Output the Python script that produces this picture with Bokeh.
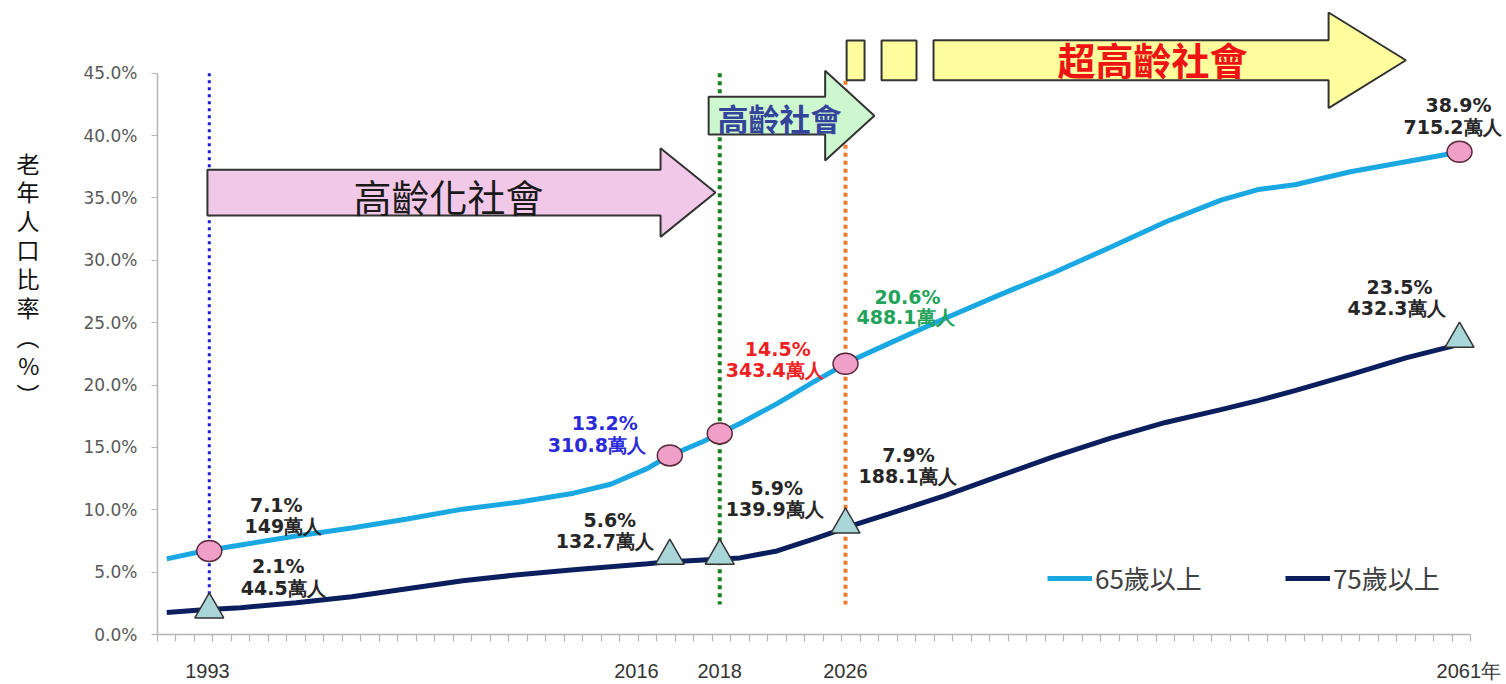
from bokeh.plotting import figure
from bokeh.models import (Range1d, FixedTicker, CustomJSTickFormatter, ColumnDataSource,
                          LabelSet, Legend, LegendItem)
from bokeh.core.properties import value
from bokeh.embed import file_html
from bokeh.resources import INLINE

# ---------------- data ----------------
years = [1991, 1993, 1995, 1998, 2001, 2004, 2007, 2010, 2013, 2015, 2017, 2018,
         2020, 2022, 2024, 2026, 2028, 2030, 2033, 2036, 2039, 2042, 2045, 2048,
         2050, 2052, 2055, 2058, 2061]
share65 = [6.06, 6.70, 7.18, 7.90, 8.54, 9.26, 10.05, 10.61, 11.33, 12.05, 13.32, 14.20,
           15.48, 16.92, 18.51, 20.27, 21.94, 23.30, 25.29, 27.21, 29.04, 31.03, 33.07, 34.83,
           35.67, 36.06, 37.10, 37.90, 38.70]
share75 = [1.76, 1.99, 2.15, 2.55, 3.03, 3.67, 4.31, 4.79, 5.19, 5.43, 5.67, 5.82,
           5.98, 6.14, 6.70, 7.66, 8.70, 9.65, 11.09, 12.69, 14.28, 15.72, 17.00, 18.03,
           18.75, 19.55, 20.83, 22.18, 23.30]

# milestone markers (positions along the axis as drawn in the picture)
mark_x = [1993.3, 2018.2, 2020.9, 2027.7, 2060.9]
mark65 = [6.70, 14.36, 16.12, 21.70, 38.70]
mark75 = [2.0, 6.3, 6.3, 8.8, 23.7]

pct65 = ["7.1%", "13.2%", "14.5%", "20.6%", "38.9%"]
pop65 = ["149萬人", "310.8萬人", "343.4萬人", "488.1萬人", "715.2萬人"]
pct75 = ["2.1%", "5.6%", "5.9%", "7.9%", "23.5%"]
pop75 = ["44.5萬人", "132.7萬人", "139.9萬人", "188.1萬人", "432.3萬人"]

x_tick_pos = [1993.2, 2016.4, 2020.9, 2027.7, 2061.4]
x_tick_labels = ["1993", "2016", "2018", "2026", "2061年"]
y_ticks = [0, 5, 10, 15, 20, 25, 30, 35, 40, 45]
y_tick_labels = ["0.0%", "5.0%", "10.0%", "15.0%", "20.0%", "25.0%", "30.0%", "35.0%", "40.0%", "45.0%"]

series_names = ["65歲以上", "75歲以上"]
phase_names = ["高齡化社會", "高齡社會", "超高齡社會"]
y_title = "老\n年\n人\n口\n比\n率\n︵\n%\n︶"
vline_x = [1993.3, 2020.9, 2027.7]

# ---------------- styles / layout ----------------
C65 = "#1aa8e2"
C75 = "#0b1f5e"
GREY = "#b5b5b5"
NUM_FONT = "DejaVu Sans"
CJK = "Noto Sans CJK TC"

p = figure(width=1506, height=684, output_backend="svg", toolbar_location=None,
           x_range=Range1d(1990.5, 2063.44), y_range=Range1d(0, 50.19),
           min_border_left=157, min_border_right=0, min_border_top=8, min_border_bottom=47)
p.outline_line_color = None
p.xgrid.visible = False
p.ygrid.visible = False
p.background_fill_color = "white"

# y axis
ya = p.yaxis[0]
ya.ticker = FixedTicker(ticks=y_ticks)
ya.formatter = CustomJSTickFormatter(args=dict(pos=y_ticks, labels=y_tick_labels), code="""
for (let i = 0; i < pos.length; i++) { if (Math.abs(tick - pos[i]) < 1e-6) return labels[i]; }
return '';""")
ya.bounds = (0, 45)
ya.axis_line_color = GREY
ya.axis_line_width = 1.5
ya.major_tick_line_color = GREY
ya.major_tick_out = 6
ya.major_tick_in = 0
ya.minor_tick_line_color = None
ya.major_label_text_font = NUM_FONT
ya.major_label_text_font_size = "17px"
ya.major_label_text_color = "#595959"
ya.major_label_standoff = 14
ya.axis_label = y_title + "\n \n \n "
ya.axis_label_orientation = "horizontal"
ya.axis_label_text_font = CJK
ya.axis_label_text_font_size = "23px"
ya.axis_label_text_font_style = "normal"
ya.axis_label_text_color = "#111111"
ya.axis_label_text_line_height = 0.85
ya.axis_label_standoff = 41

# x axis
xa = p.xaxis[0]
xa.bounds = (1990.5, 2061.5)
xa.ticker = FixedTicker(ticks=x_tick_pos, minor_ticks=[1990.5 + i for i in range(72)])
xa.formatter = CustomJSTickFormatter(args=dict(pos=x_tick_pos, labels=x_tick_labels), code="""
for (let i = 0; i < pos.length; i++) { if (Math.abs(tick - pos[i]) < 1e-6) return labels[i]; }
return '';""")
xa.axis_line_color = GREY
xa.axis_line_width = 1.5
xa.major_tick_line_color = None
xa.major_tick_out = 6
xa.major_tick_in = 0
xa.minor_tick_line_color = GREY
xa.minor_tick_line_width = 1.2
xa.minor_tick_out = 7
xa.minor_tick_in = 0
xa.major_label_text_font = "Liberation Sans"
xa.major_label_text_font_size = "20px"
xa.major_label_text_color = "#333333"
xa.major_label_standoff = 18

# vertical dotted lines
p.segment(x0=[vline_x[0]], y0=[45.0], x1=[vline_x[0]], y1=[3.1],
          line_color="#1c1cd8", line_width=3, line_dash="3 4")
p.segment(x0=[vline_x[1]], y0=[45.0], x1=[vline_x[1]], y1=[2.4],
          line_color="#17801f", line_width=4, line_dash="4 4")
p.segment(x0=[vline_x[2]], y0=[44.4], x1=[vline_x[2]], y1=[2.4],
          line_color="#f07a2a", line_width=4, line_dash="4 4")

# phase arrows
def block_arrow(x0, xh, xt, yc, hb, hh):
    return ([x0, xh, xh, xt, xh, xh, x0],
            [yc - hb, yc - hb, yc - hh, yc, yc + hh, yc + hb, yc + hb])

ax1, ay1 = block_arrow(1993.2, 2017.7, 2020.67, 35.43, 1.84, 3.55)
ax2, ay2 = block_arrow(2020.3, 2026.6, 2029.26, 41.6, 1.52, 3.6)
ax3, ay3 = block_arrow(2032.46, 2053.82, 2058.0, 46.04, 1.6, 3.83)
p.patch(ax1, ay1, fill_color="#f2c8e8", line_color="#333333", line_width=2)
p.patch(ax2, ay2, fill_color="#ccf7cf", line_color="#333333", line_width=2)
p.patch(ax3, ay3, fill_color="#fdfd9e", line_color="#333333", line_width=2)
p.quad(left=[2027.76, 2029.65], right=[2028.73, 2031.54], bottom=[44.44, 44.44], top=[47.63, 47.63],
       fill_color="#fdfd9e", line_color="#333333", line_width=2)

p.text(x=[2006.24], y=[35.19], text=[phase_names[0]], text_font=value(CJK), text_font_size="38px",
       text_color="#1a1a1a", text_align="center", text_baseline="middle")
p.text(x=[2024.13], y=[41.49], text=[phase_names[1]], text_font=value(CJK), text_font_size="31px",
       text_font_style="bold", text_color="#34449a", text_align="center", text_baseline="middle")
p.text(x=[2044.3], y=[46.2], text=[phase_names[2]], text_font=value(CJK), text_font_size="38px",
       text_font_style="bold", text_color="#ee1414", text_align="center", text_baseline="middle")

# series lines
l65 = p.line(years, share65, line_color=C65, line_width=5)
l75 = p.line(years, share75, line_color=C75, line_width=5)

# markers
p.ellipse(x=mark_x, y=mark65, width=25, height=21, width_units="screen", height_units="screen",
          fill_color="#ef9fc8", line_color="#5a2a3c", line_width=1.5)
p.scatter(x=mark_x, y=mark75, marker="triangle", size=29,
          fill_color="#a9d6d8", line_color="#333333", line_width=1.5)

# data labels (offsets in px: right / up)
col65 = ["#262626", "#2b2bd9", "#ee2222", "#22a35a", "#262626"]
col75 = ["#262626"] * 5
dx65_p = [67, -65, 58, 62, -1]
up65_p = [46, 32, 84, 67, 47]
dx65_n = [74, -73, 55, 60, -7]
up65_n = [25, 10, 63, 47, 25]
dx75_p = [69, -60, 57, 63, -60]
up75_p = [44, 36, 68, 70, 52]
dx75_n = [74, -65, 55, 62, -63]
up75_n = [22, 15, 47, 49, 31]

def add_labels(ys, texts, cols, dxs, ups):
    src = ColumnDataSource(dict(x=mark_x, y=ys, t=texts, c=cols, dx=dxs, dy=ups))
    p.add_layout(LabelSet(x="x", y="y", text="t", text_color="c", x_offset="dx", y_offset="dy",
                          source=src, text_font=value(NUM_FONT), text_font_size="19px",
                          text_font_style="bold", text_align="center", text_baseline="middle"))

add_labels(mark65, pct65, col65, dx65_p, up65_p)
add_labels(mark65, pop65, col65, dx65_n, up65_n)
add_labels(mark75, pct75, col75, dx75_p, up75_p)
add_labels(mark75, pop75, col75, dx75_n, up75_n)

# legend
legend = Legend(items=[LegendItem(label=series_names[0], renderers=[l65]),
                       LegendItem(label=series_names[1], renderers=[l75])],
                orientation="horizontal", location=(890, 38),
                border_line_color=None, background_fill_alpha=0,
                label_text_font=CJK, label_text_font_size="26px", label_text_color="#404040",
                glyph_width=45, glyph_height=22, spacing=83, padding=0, margin=0,
                label_standoff=3)
p.add_layout(legend)

open("out.html", "w").write(file_html(p, INLINE))
